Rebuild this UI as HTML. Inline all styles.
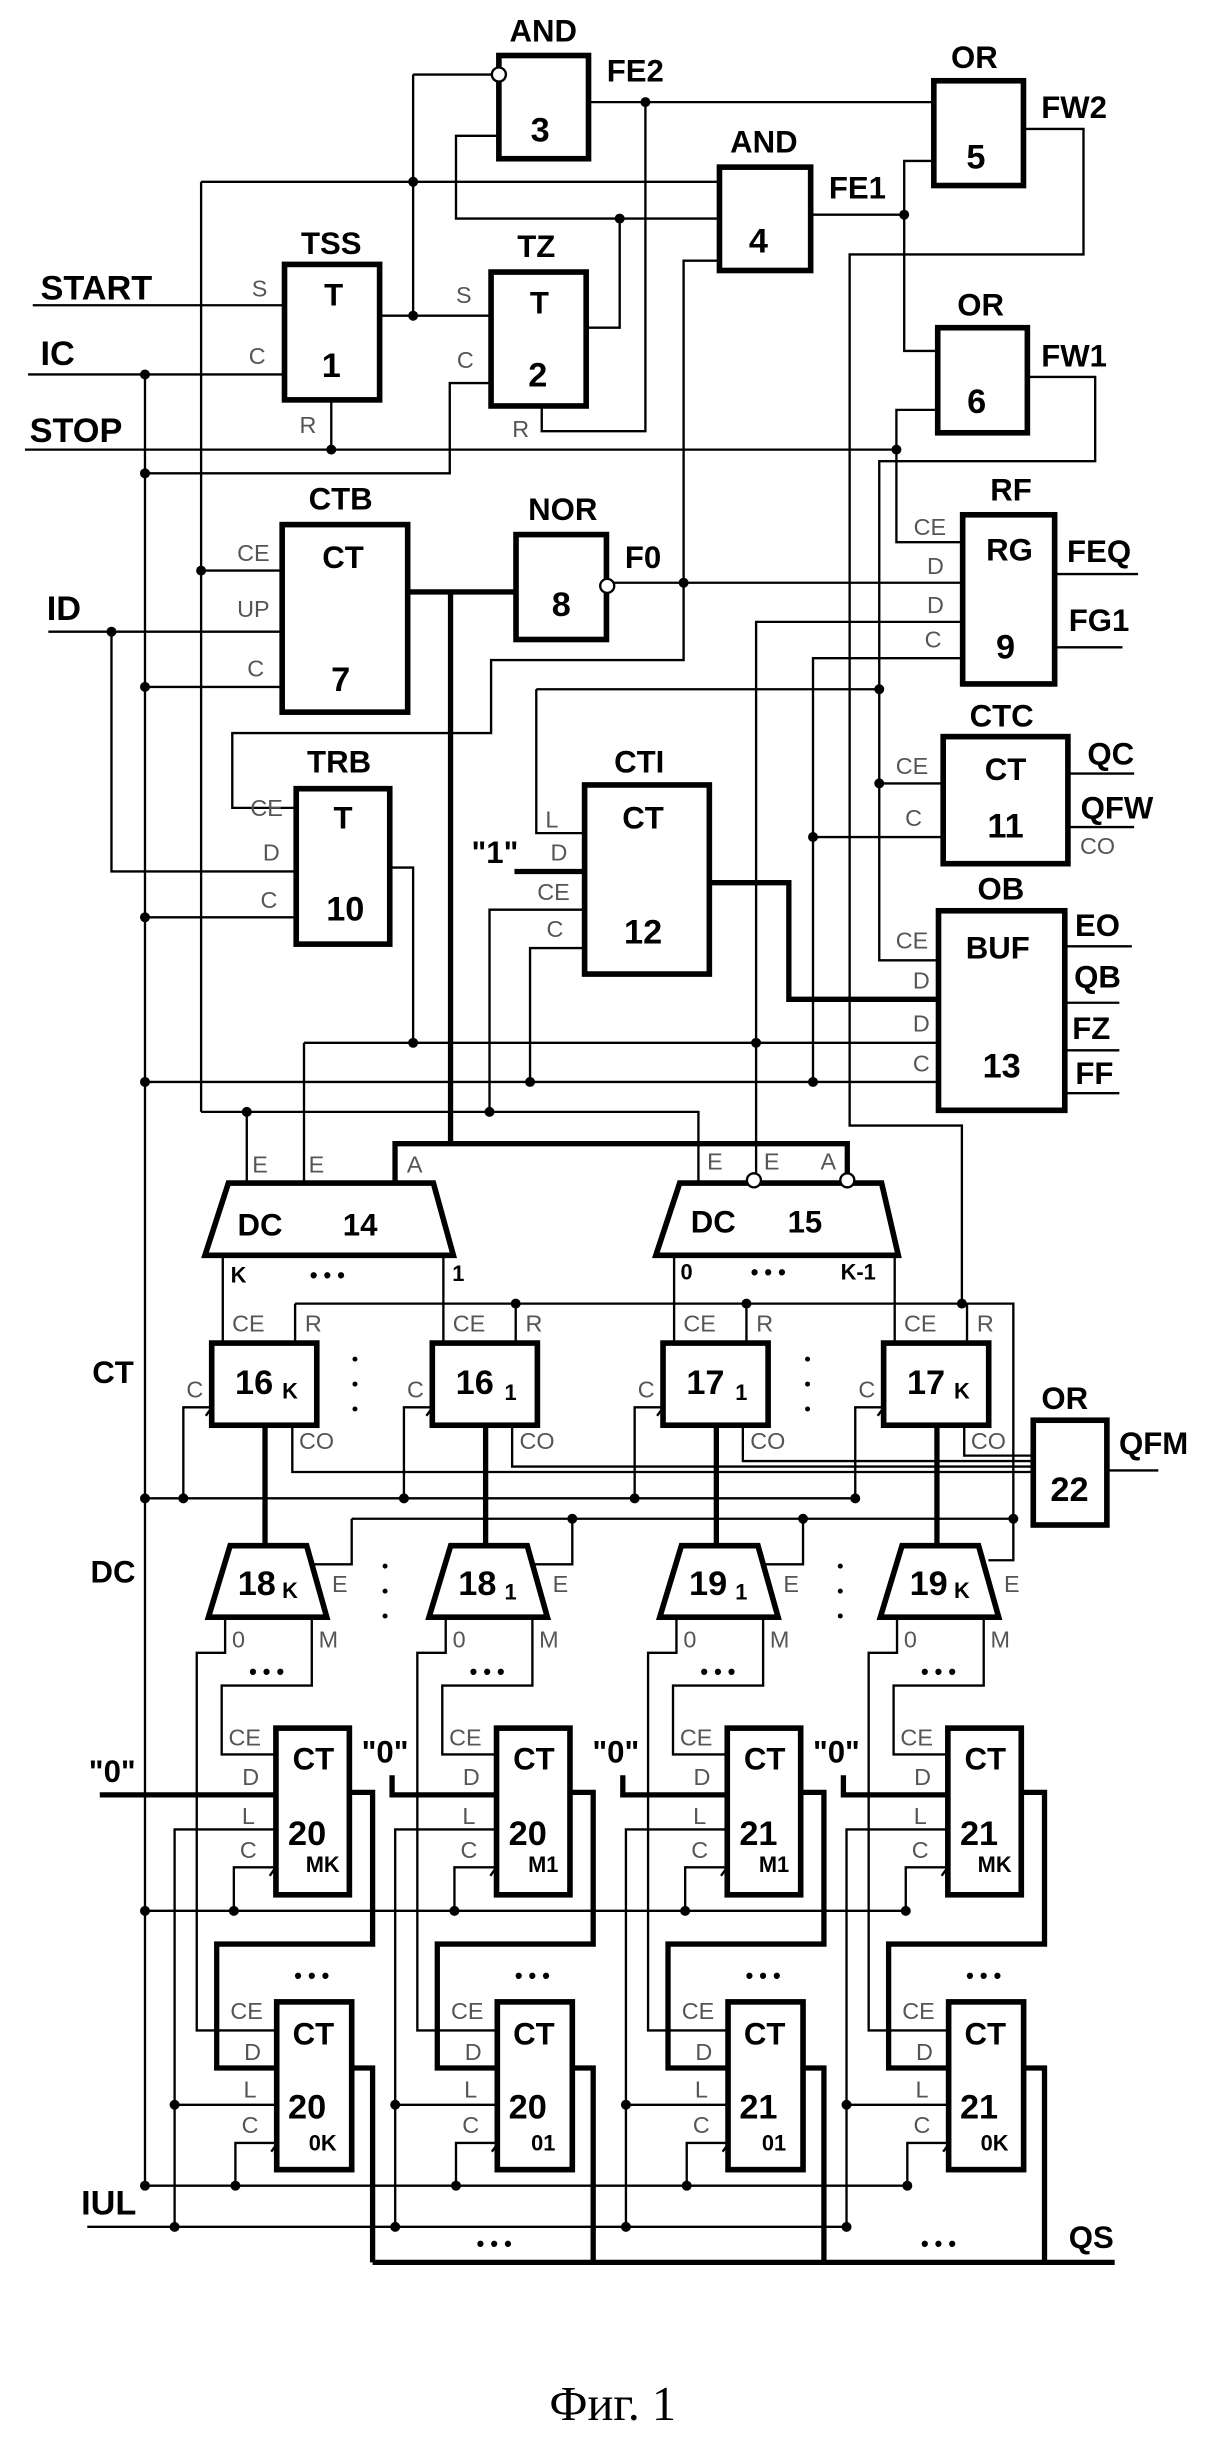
<!DOCTYPE html>
<html><head><meta charset="utf-8"><style>
html,body{margin:0;padding:0;background:#fff}
svg{display:block}
.w{fill:none;stroke:#000;stroke-width:1.5}
.t{fill:none;stroke:#000;stroke-width:3.4}
.bx{fill:#fff;stroke:#000;stroke-width:3.6}
.b{font-family:"Liberation Sans",Arial,sans-serif;font-weight:bold;font-size:20px;text-anchor:middle;dominant-baseline:central}
.n{font-family:"Liberation Sans",Arial,sans-serif;font-weight:bold;font-size:22px;text-anchor:middle;dominant-baseline:central}
.s{font-family:"Liberation Sans",Arial,sans-serif;font-weight:bold;font-size:14px;text-anchor:middle;dominant-baseline:central}
.i{font-family:"Liberation Sans",Arial,sans-serif;font-weight:bold;font-size:22px;dominant-baseline:central}
.p{font-family:"Liberation Sans",Arial,sans-serif;font-size:15px;fill:#555;text-anchor:middle;dominant-baseline:central}
.d{fill:#000}
.o{fill:#fff;stroke:#000;stroke-width:1.5}
</style></head><body>
<svg width="1216" height="2442" viewBox="0 0 780 1566" xmlns="http://www.w3.org/2000/svg">
<!-- ===== TOP WIRES ===== -->
<g class="w">
<path d="M21 195.6H182.5"/>
<path d="M18 240H182.5"/>
<path d="M16 288.2H575"/>
<path d="M212.5 256.3V288.2"/>
<path d="M243.5 202.3H315"/>
<path d="M265 47.6H320M265 47.6V202.3"/>
<path d="M129 116.4H461.5"/>
<path d="M129 116.4V713"/>
<path d="M320 86.9H292.5V140H461.5"/>
<path d="M376 210H397.5V140"/>
<path d="M315 245.5H288.5V303.4H93"/>
<path d="M347.5 260.2V276.4H414V65.3"/>
<path d="M377.5 65.3H599"/>
<path d="M461.5 167H438.5V423.2H315V470H149V518H190"/>
<path d="M520 137.5H580V103H599M580 137.5V224.9H601.5"/>
<path d="M656.5 82.5H695V163H545V721.8H617V836"/>
<path d="M601.5 262.7H575V347.6H617.5"/>
<path d="M659 241.6H702.5V295.6H564V615.8H602"/>
<path d="M344 441.9H564M344 441.9V534.2H375"/>
<path d="M394 373.6H617.5"/>
<path d="M617.5 398.7H485V752"/>
<path d="M617.5 422H521.5V693.8"/>
<path d="M564 502.3H605M521.5 536.7H605"/>
<path d="M676.5 368H730M676.5 415H720"/>
<path d="M685 496H727.5M685 530.3H727.5"/>
<path d="M683 606.8H726M683 643H718M683 673.5H718M683 701H718"/>
<path d="M129 365.8H181"/>
<path d="M31 405H181"/>
<path d="M93 440.4H181"/>
<path d="M71.5 405V558.8H190"/>
<path d="M93 588.2H190"/>
<path d="M250 556.3H265V668.7"/>
<path d="M195 668.7H602M195 668.7V758.7"/>
<path d="M375 583.3H314V713"/>
<path d="M129 713H448V757.5M158.3 713V758.7"/>
<path d="M375 607.9H340V693.8"/>
<path d="M93 693.8H602"/>
<path d="M93 240V1401.8"/>
</g>
<g class="t">
<path d="M261.5 379.5H331"/>
<path d="M289 379.5V733.4"/>
<path d="M253.4 758.7V733.4H543.5V752"/>
<path d="M330 558.8H375"/>
<path d="M455 566H506V640.8H602"/>
</g>
<!-- top boxes -->
<rect class="bx" x="320" y="35.4" width="57.5" height="66.2"/>
<rect class="bx" x="599" y="51.6" width="57.5" height="67.2"/>
<rect class="bx" x="461.5" y="107" width="58.5" height="66.3"/>
<rect class="bx" x="182.5" y="169.4" width="61" height="86.9"/>
<rect class="bx" x="315" y="174.3" width="61" height="85.9"/>
<rect class="bx" x="601.5" y="210" width="57.5" height="67.4"/>
<rect class="bx" x="617.5" y="330" width="59" height="108.5"/>
<rect class="bx" x="181" y="336.3" width="80.5" height="120.3"/>
<rect class="bx" x="331" y="342.7" width="58" height="67.3"/>
<rect class="bx" x="605" y="472.3" width="80" height="81.5"/>
<rect class="bx" x="190" y="505.7" width="60" height="99.7"/>
<rect class="bx" x="375" y="503.3" width="80" height="121.3"/>
<rect class="bx" x="602" y="584" width="81" height="128"/>
<circle class="o" cx="320" cy="47.6" r="4.5"/>
<circle class="o" cx="389.5" cy="375.6" r="4.5"/>
<!-- top dots -->
<g class="d">
<circle cx="414" cy="65.3" r="3.2"/><circle cx="265" cy="116.4" r="3.2"/><circle cx="397.5" cy="140" r="3.2"/>
<circle cx="580" cy="137.5" r="3.2"/><circle cx="265" cy="202.3" r="3.2"/><circle cx="93" cy="240" r="3.2"/>
<circle cx="212.5" cy="288.2" r="3.2"/><circle cx="575" cy="288.2" r="3.2"/><circle cx="93" cy="303.4" r="3.2"/>
<circle cx="129" cy="365.8" r="3.2"/><circle cx="438.5" cy="373.6" r="3.2"/><circle cx="71.5" cy="405" r="3.2"/>
<circle cx="93" cy="440.4" r="3.2"/><circle cx="564" cy="441.9" r="3.2"/><circle cx="564" cy="502.3" r="3.2"/>
<circle cx="521.5" cy="536.7" r="3.2"/><circle cx="93" cy="588.2" r="3.2"/><circle cx="265" cy="668.7" r="3.2"/>
<circle cx="485" cy="668.7" r="3.2"/><circle cx="93" cy="693.8" r="3.2"/><circle cx="340" cy="693.8" r="3.2"/>
<circle cx="521.5" cy="693.8" r="3.2"/><circle cx="158.3" cy="713" r="3.2"/><circle cx="314" cy="713" r="3.2"/>
</g>
<!-- top text -->
<text class="b" x="348.5" y="19.6">AND</text><text class="n" x="346.5" y="83.5">3</text><text class="b" x="407.5" y="45.2">FE2</text>
<text class="b" x="625" y="36.8">OR</text><text class="n" x="626" y="100.7">5</text><text class="b" x="689" y="68.7">FW2</text>
<text class="b" x="490" y="90.8">AND</text><text class="n" x="486.5" y="154.7">4</text><text class="b" x="550" y="120.3">FE1</text>
<text class="b" x="212.5" y="156">TSS</text><text class="b" x="214" y="189">T</text><text class="n" x="212.5" y="234.7">1</text>
<text class="p" x="166.5" y="185">S</text><text class="p" x="165" y="228">C</text><text class="p" x="197.5" y="272.5">R</text>
<text class="b" x="344" y="158">TZ</text><text class="b" x="346" y="194">T</text><text class="n" x="345" y="240.6">2</text>
<text class="p" x="297.5" y="189">S</text><text class="p" x="298.5" y="230.8">C</text><text class="p" x="334" y="275">R</text>
<text class="b" x="629" y="195.4">OR</text><text class="n" x="626.5" y="257.8">6</text><text class="b" x="689" y="228.3">FW1</text>
<text class="i" x="26" y="185">START</text><text class="i" x="26" y="227">IC</text><text class="i" x="19" y="276.4">STOP</text><text class="i" x="30" y="390.3">ID</text>
<text class="b" x="648.5" y="314">RF</text><text class="b" x="647.5" y="352.5">RG</text><text class="n" x="645" y="415">9</text>
<text class="p" x="596.5" y="337.8">CE</text><text class="p" x="600" y="363">D</text><text class="p" x="600" y="388">D</text><text class="p" x="598.5" y="410">C</text>
<text class="b" x="705" y="353.5">FEQ</text><text class="b" x="705" y="397.7">FG1</text>
<text class="b" x="218.5" y="320">CTB</text><text class="b" x="220" y="357.4">CT</text><text class="n" x="218.5" y="436">7</text>
<text class="p" x="162.5" y="354.5">CE</text><text class="p" x="162.5" y="390.3">UP</text><text class="p" x="164" y="428.6">C</text>
<text class="b" x="361" y="326.5">NOR</text><text class="n" x="360" y="388">8</text><text class="b" x="412.5" y="357.4">F0</text>
<text class="b" x="642.5" y="459">CTC</text><text class="b" x="645" y="493.5">CT</text><text class="n" x="645" y="530">11</text>
<text class="p" x="585" y="491">CE</text><text class="p" x="586" y="524.4">C</text>
<text class="b" x="712.5" y="483.6">QC</text><text class="b" x="716.5" y="518">QFW</text><text class="p" x="704" y="542.6">CO</text>
<text class="b" x="217.5" y="488.5">TRB</text><text class="b" x="220" y="524.4">T</text><text class="n" x="221.5" y="583.3">10</text>
<text class="p" x="171" y="518">CE</text><text class="p" x="174" y="546.5">D</text><text class="p" x="172.5" y="577">C</text>
<text class="b" x="410" y="488.5">CTI</text><text class="b" x="412.5" y="524.4">CT</text><text class="n" x="412.5" y="598">12</text>
<text class="p" x="354" y="525.4">L</text><text class="p" x="358.5" y="546.5">D</text><text class="p" x="355" y="572">CE</text><text class="p" x="356" y="595.6">C</text>
<text class="b" x="317.5" y="546.5">"1"</text>
<text class="b" x="642" y="570">OB</text><text class="b" x="640" y="608">BUF</text><text class="n" x="642.5" y="684">13</text>
<text class="p" x="585" y="603">CE</text><text class="p" x="591" y="628.6">D</text><text class="p" x="591" y="656.4">D</text><text class="p" x="591" y="682">C</text>
<text class="b" x="704" y="593.3">EO</text><text class="b" x="704" y="626.5">QB</text><text class="b" x="700" y="659.6">FZ</text><text class="b" x="702" y="688.5">FF</text>

<!-- ===== DECODERS ===== -->
<polygon class="bx" points="146.5,758.7 278,758.7 290.8,805 131.5,805"/>
<polygon class="bx" points="436,758.7 565.5,758.7 576.2,805 420.7,805"/>
<circle class="o" cx="483.6" cy="756.9" r="4.5"/>
<circle class="o" cx="543.5" cy="756.9" r="4.5"/>
<text class="b" x="166.8" y="785.7">DC</text><text class="b" x="231" y="785.7">14</text>
<text class="b" x="457.5" y="783.6">DC</text><text class="b" x="516.3" y="783.6">15</text>
<text class="p" x="166.8" y="746.8">E</text><text class="p" x="203" y="746.8">E</text><text class="p" x="266" y="746.8">A</text>
<text class="p" x="458.6" y="745">E</text><text class="p" x="495" y="745">E</text><text class="p" x="531.3" y="745">A</text>
<text class="s" x="153" y="817.8">K</text><text class="s" x="210" y="817.8">• • •</text><text class="s" x="294" y="816.8">1</text>
<text class="s" x="440.4" y="815.7">0</text><text class="s" x="492.8" y="815.7">• • •</text><text class="s" x="550.5" y="815.7">K-1</text>
<text class="b" x="72.5" y="880.3">CT</text><text class="b" x="72.5" y="1008.2">DC</text>

<g class="w">
<path d="M189.3 836H650V1000.6H634"/>
<path d="M93 960.9H548.6"/>
<path d="M225.6 974H650"/>
<path d="M187.5 914V944H662.8"/>
<path d="M328.5 914V940.5H662.8"/>
<path d="M476.5 914V937H662.8"/>
<path d="M618.5 914V933.5H662.8"/>
<path d="M710 943H743"/>
<path d="M93 1225.5H581"/>
<path d="M93 1401.8H582"/>
<path d="M56 1428.2H543"/>
</g>
<path class="t" d="M239 1451H715"/>
<rect class="bx" x="662.8" y="910.8" width="47.2" height="67.2"/>
<text class="b" x="683" y="897">OR</text><text class="n" x="686" y="955.7">22</text><text class="b" x="740" y="925.8">QFM</text>

<!-- columns -->
<defs>
<g id="col">
<g class="w">
<path d="M142.9 805V861.3"/>
<path d="M189.3 861.3V836"/>
<path d="M135.8 902.5H117.6V960.9"/>
<path d="M200 1037V1081H142.2V1125.2H177"/>
<path d="M144.4 1037V1060H126.2V1302.2H177.5"/>
<path d="M177 1173.3H112V1428.2M112 1349.9H177.5"/>
<path d="M177 1197.6H150V1225.5"/>
<path d="M177.5 1374.4H151V1401.8"/>
<path d="M132 908L140 897M173 1203L181 1192M174 1380L182 1369"/>
</g>
<g class="t">
<path d="M170 914V991.3"/>
<path d="M224 1149.5H239V1246.8H139V1326.3H177.5"/>
<path d="M225.6 1326.3H239V1451"/>
</g>
<rect class="bx" x="135.8" y="861.3" width="67.4" height="52.7"/>
<polygon class="bx" points="147.6,991.3 196.7,991.3 209.6,1037.1 133.7,1037.1"/>
<rect class="bx" x="177" y="1108.3" width="47.1" height="106.9"/>
<rect class="bx" x="177.5" y="1283.9" width="48.1" height="107.6"/>
<g class="d">
<circle cx="117.6" cy="960.9" r="3.2"/><circle cx="150" cy="1225.5" r="3.2"/><circle cx="151" cy="1401.8" r="3.2"/>
<circle cx="112" cy="1349.9" r="3.2"/><circle cx="112" cy="1428.2" r="3.2"/>
</g>
<text class="p" x="159.3" y="848.7">CE</text><text class="p" x="201" y="848.7">R</text><text class="p" x="125" y="891">C</text><text class="p" x="203" y="924.2">CO</text>
<text class="p" x="218" y="1016">E</text><text class="p" x="153" y="1051.3">0</text><text class="p" x="210.6" y="1051.3">M</text>
<text class="s" x="171" y="1072">• • •</text><text class="s" x="200" y="1267">• • •</text>
<text class="p" x="157" y="1114.4">CE</text><text class="p" x="160.8" y="1139.6">D</text><text class="p" x="159.3" y="1164.8">L</text><text class="p" x="159.3" y="1186.6">C</text>
<text class="p" x="158.2" y="1289.6">CE</text><text class="p" x="162" y="1316">D</text><text class="p" x="160.4" y="1340">L</text><text class="p" x="160.4" y="1363">C</text>
<text class="b" x="201" y="1128.2">CT</text><text class="b" x="201" y="1304.5">CT</text>
</g>
</defs>
<use href="#col"/>
<use href="#col" transform="translate(141.5 0)"/>
<use href="#col" transform="translate(289.5 0)"/>
<use href="#col" transform="translate(431 0)"/>
<!-- E wires cols 0-2 -->
<g class="w">
<path d="M200 1003.2H225.6V974"/>
<path d="M341.5 1003.2H367.1V974"/>
<path d="M489.5 1003.2H515.1V974"/>
</g>
<!-- D "0" inputs -->
<g class="t">
<path d="M64 1151.1H177"/>
<path d="M251.5 1138.5V1151.1H318.5"/>
<path d="M399.5 1138.5V1151.1H466.5"/>
<path d="M541 1138.5V1151.1H608"/>
</g>
<g class="d">
<circle cx="93" cy="960.9" r="3.2"/><circle cx="330.8" cy="836" r="3.2"/><circle cx="478.8" cy="836" r="3.2"/><circle cx="617" cy="836" r="3.2"/>
<circle cx="367.1" cy="974" r="3.2"/><circle cx="515.1" cy="974" r="3.2"/><circle cx="650" cy="974" r="3.2"/>
<circle cx="93" cy="1225.5" r="3.2"/><circle cx="93" cy="1401.8" r="3.2"/>
</g>
<text class="b" x="72" y="1136.2">"0"</text>
<text class="b" x="247" y="1123.6">"0"</text><text class="b" x="395" y="1123.6">"0"</text><text class="b" x="536.5" y="1123.6">"0"</text>
<!-- column labels -->
<text class="n" x="163" y="887">16</text><text class="s" x="186" y="892">K</text>
<text class="n" x="304.5" y="887">16</text><text class="s" x="327.5" y="893">1</text>
<text class="n" x="452.5" y="887">17</text><text class="s" x="475.5" y="893">1</text>
<text class="n" x="594" y="887">17</text><text class="s" x="617" y="892">K</text>
<text class="n" x="164.7" y="1015.8">18</text><text class="s" x="186" y="1020">K</text>
<text class="n" x="306.2" y="1015.8">18</text><text class="s" x="327.5" y="1021">1</text>
<text class="n" x="454.2" y="1015.8">19</text><text class="s" x="475.5" y="1021">1</text>
<text class="n" x="595.7" y="1015.8">19</text><text class="s" x="617" y="1020">K</text>
<g>
<text class="n" x="197" y="1176.3">20</text><text class="s" x="207" y="1195.7">MK</text>
<text class="n" x="197" y="1351.5">20</text><text class="s" x="207" y="1374.4">0K</text>
<text class="n" x="338.5" y="1176.3">20</text><text class="s" x="348.5" y="1195.7">M1</text>
<text class="n" x="338.5" y="1351.5">20</text><text class="s" x="348.5" y="1374.4">01</text>
<text class="n" x="486.5" y="1176.3">21</text><text class="s" x="496.5" y="1195.7">M1</text>
<text class="n" x="486.5" y="1351.5">21</text><text class="s" x="496.5" y="1374.4">01</text>
<text class="n" x="628" y="1176.3">21</text><text class="s" x="638" y="1195.7">MK</text>
<text class="n" x="628" y="1351.5">21</text><text class="s" x="638" y="1374.4">0K</text>
</g>
<!-- vertical ellipsis dots -->
<g class="d">
<circle cx="227.7" cy="871.6" r="1.6"/><circle cx="227.7" cy="887.6" r="1.6"/><circle cx="227.7" cy="903.6" r="1.6"/>
<circle cx="518" cy="871.6" r="1.6"/><circle cx="518" cy="887.6" r="1.6"/><circle cx="518" cy="903.6" r="1.6"/>
<circle cx="247" cy="1004.4" r="1.6"/><circle cx="247" cy="1020.4" r="1.6"/><circle cx="247" cy="1036.4" r="1.6"/>
<circle cx="539" cy="1004.4" r="1.6"/><circle cx="539" cy="1020.4" r="1.6"/><circle cx="539" cy="1036.4" r="1.6"/>
</g>
<text class="i" x="52" y="1413.3">IUL</text>
<text class="b" x="700" y="1435">QS</text>
<text class="s" x="317" y="1439">• • •</text><text class="s" x="602" y="1439">• • •</text>
<text x="393" y="1552" style="font-family:'Liberation Serif',serif;font-size:31px;text-anchor:middle">Фиг. 1</text>
</svg>
</body></html>
